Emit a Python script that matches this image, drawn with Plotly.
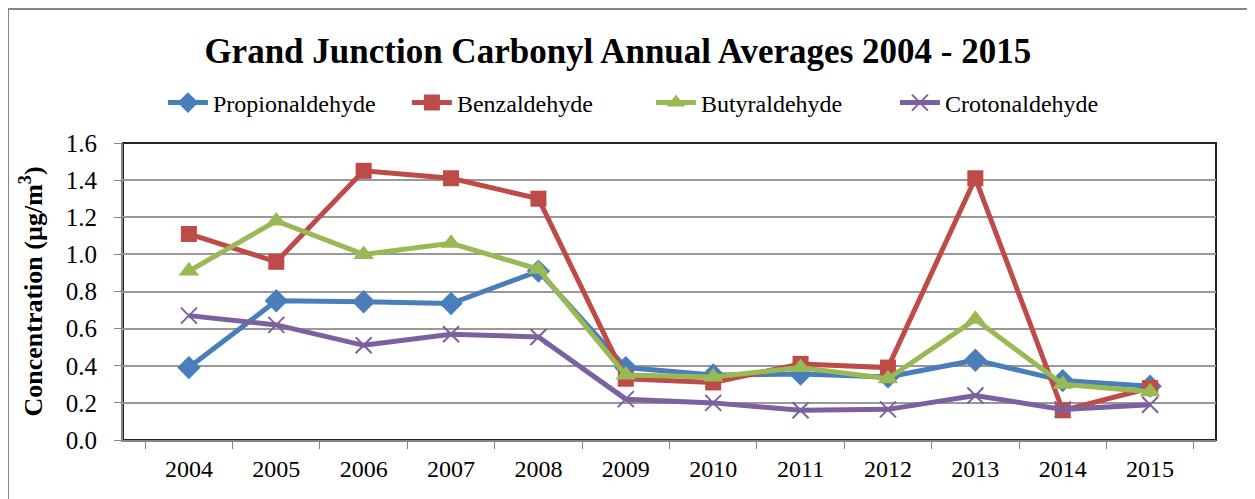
import plotly.graph_objects as go

years = ["2004", "2005", "2006", "2007", "2008", "2009", "2010", "2011", "2012", "2013", "2014", "2015"]
propionaldehyde = [0.39, 0.75, 0.745, 0.735, 0.91, 0.39, 0.35, 0.355, 0.34, 0.43, 0.32, 0.29]
benzaldehyde = [1.11, 0.96, 1.45, 1.41, 1.30, 0.33, 0.31, 0.41, 0.39, 1.41, 0.16, 0.28]
butyraldehyde = [0.91, 1.18, 1.00, 1.06, 0.92, 0.35, 0.34, 0.39, 0.33, 0.65, 0.30, 0.26]
crotonaldehyde = [0.67, 0.62, 0.51, 0.57, 0.555, 0.22, 0.20, 0.16, 0.165, 0.24, 0.165, 0.19]

font = "Liberation Serif"

fig = go.Figure()
series = [
    ("Propionaldehyde", propionaldehyde, "#4A7EBB", "diamond", 18, 0),
    ("Benzaldehyde", benzaldehyde, "#BE4B48", "square", 16, 0),
    ("Butyraldehyde", butyraldehyde, "#98B954", "triangle-up", 18, 0),
    ("Crotonaldehyde", crotonaldehyde, "#7D60A0", "x-thin-open", 16, 2),
]
for name, vals, col, sym, sz, lw in series:
    fig.add_trace(go.Scatter(
        x=years, y=vals, name=name, mode="lines+markers",
        line=dict(color=col, width=5),
        marker=dict(symbol=sym, size=sz, color=col, line=dict(color=col, width=lw)),
    ))

# page body has an 8px default margin, so the figure is placed at (8, 8)
OFF = 8
W, H = 1255 - OFF, 499 - OFF
L, R, T, B = 123 - OFF, 39, 143 - OFF, 59
pw, ph = W - L - R, H - T - B

fig.update_layout(
    width=W, height=H,
    margin=dict(l=L, r=R, t=T, b=B, autoexpand=False),
    paper_bgcolor="white", plot_bgcolor="white",
    font=dict(family=font, size=22, color="black"),
    title=dict(text="<b>Grand Junction Carbonyl Annual Averages 2004 - 2015</b>",
               x=0.489, xanchor="center", y=1 - (51 - OFF) / H, yanchor="middle",
               font=dict(family=font, size=35, color="black")),
    legend=dict(orientation="h", x=0.483, xanchor="center", y=(499 - 103 - B) / ph, yanchor="middle",
                font=dict(family=font, size=24), itemwidth=40, tracegroupgap=0,
                entrywidth=189, entrywidthmode="pixels"),
    showlegend=True,
)
fig.update_xaxes(
    type="category", tickson="boundaries", ticks="outside", ticklen=7,
    tickcolor="#868686", showline=True, linecolor="#868686", linewidth=2,
    showgrid=False, tickfont=dict(family=font, size=24, color="black"), automargin=False,
    ticklabelstandoff=6,
)
fig.update_yaxes(
    range=[0, 1.6], dtick=0.2, tickformat=".1f", ticks="outside", ticklen=7,
    tickcolor="#868686", showline=True, linecolor="#868686", linewidth=2,
    showgrid=True, gridcolor="#999999", gridwidth=1.5, zeroline=False,
    tickfont=dict(family=font, size=25, color="black"), automargin=False,
    ticklabelstandoff=12,
    title=dict(text="<b>Concentration (µg/m<sup>3</sup>)</b>",
               font=dict(family=font, size=26, color="black"), standoff=16),
)
# plot area border (top/right dark)
fig.add_shape(type="rect", xref="paper", yref="paper", x0=0, x1=1, y0=0, y1=1,
              line=dict(color="#222222", width=2), layer="below")
# outer chart border
fig.add_shape(type="rect", xref="paper", yref="paper",
              x0=(8 - 123) / pw, x1=1.2, y0=-0.5, y1=1 + (143 - 9) / ph,
              line=dict(color="#868686", width=2))
fig.write_html("out.html")
